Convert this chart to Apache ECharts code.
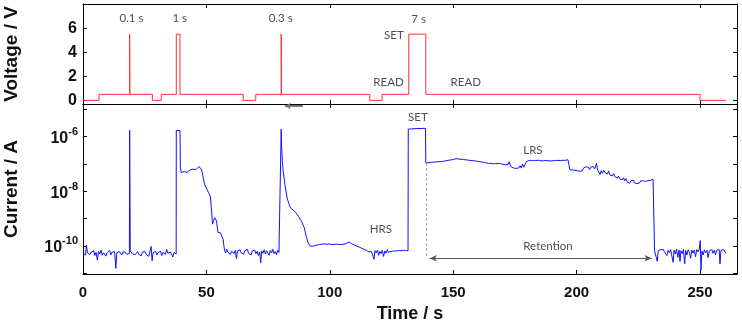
<!DOCTYPE html>
<html lang="en">
<head>
    <meta charset="utf-8">
    <title>Voltage / current vs time</title>
    <script type="text/javascript" src="https://cdn.jsdelivr.net/npm/echarts@6.0.0/dist/echarts.min.js"></script>
    <style>
        html, body { margin: 0; padding: 0; background: #fff; }
        #main { width: 742px; height: 325px; }
    </style>
</head>
<body>
<div id="main"></div>
<script>
    // applied voltage, [time s, V]
    var voltage = [
        [0, 0], [6.5, 0], [6.5, 0.5], [18.9, 0.5], [18.9, 5.5], [19.0, 5.5], [19.0, 0.5],
        [28.1, 0.5], [28.1, 0], [31.7, 0], [31.7, 0.5], [37.8, 0.5], [37.8, 5.5], [39.3, 5.5], [39.3, 0.5],
        [64.9, 0.5], [64.9, 0], [70, 0], [70, 0.5], [80.3, 0.5], [80.3, 5.5], [80.45, 5.5], [80.45, 0.5],
        [116.2, 0.5], [116.2, 0], [121.2, 0], [121.2, 0.5], [132, 0.5], [132, 5.5], [138.9, 5.5], [138.9, 0.5],
        [250, 0.5], [250, 0], [260.5, 0]
    ];

    // measured current, [time s, A]
    var current = [
        [0, 5.2e-11], [0.5, 6.0e-11], [1.0, 4.6e-11], [1.4, 1.05e-10], [1.8, 5.5e-11], [2.3, 6.3e-11], [2.8, 4.8e-11],
        [3.3, 5.9e-11], [3.8, 5.1e-11], [4.3, 6.6e-11], [4.8, 4.4e-11], [5.3, 5.8e-11], [5.8, 3.0e-11], [6.3, 6.2e-11],
        [6.8, 5.0e-11], [7.3, 7.0e-11], [7.8, 4.5e-11], [8.3, 5.6e-11], [8.8, 6.4e-11], [9.3, 4.2e-11], [9.8, 5.7e-11],
        [10.3, 5.0e-11], [10.8, 6.8e-11], [11.3, 4.7e-11], [11.8, 5.9e-11], [12.3, 5.3e-11], [12.8, 6.1e-11], [13.3, 1.5e-11],
        [13.7, 5.6e-11], [14.2, 4.9e-11], [14.7, 6.2e-11], [15.2, 5.4e-11], [15.7, 4.6e-11], [16.2, 6.0e-11], [16.7, 5.2e-11],
        [17.2, 5.8e-11], [17.7, 4.9e-11], [18.3, 5.6e-11], [18.8, 5.3e-11],
        [18.9, 1.7e-6], [19.05, 1.7e-6], [19.15, 6.5e-11],
        [19.6, 5.6e-11], [20.1, 5.0e-11], [20.6, 5.8e-11], [21.1, 4.7e-11], [21.6, 5.5e-11], [22.1, 6.1e-11], [22.6, 4.9e-11],
        [23.1, 5.4e-11], [23.6, 4.3e-11], [24.1, 5.9e-11], [24.6, 5.2e-11], [25.1, 6.3e-11], [25.6, 4.8e-11], [26.1, 5.5e-11],
        [26.6, 4.1e-11], [27.1, 6.0e-11], [27.6, 9.5e-11], [28.0, 2.8e-11], [28.4, 5.7e-11], [28.9, 5.1e-11], [29.4, 6.2e-11],
        [29.9, 4.6e-11], [30.4, 5.6e-11], [30.9, 5.0e-11], [31.4, 6.4e-11], [31.9, 4.4e-11], [32.4, 5.7e-11], [32.9, 6.6e-11],
        [33.4, 4.9e-11], [33.9, 7.4e-11], [34.4, 5.3e-11], [34.9, 4.7e-11], [35.4, 6.0e-11], [35.9, 5.1e-11], [36.4, 3.9e-11],
        [36.9, 5.8e-11], [37.4, 5.2e-11], [37.75, 5.0e-11],
        [37.8, 1.66e-6], [38.5, 1.7e-6], [39.3, 1.66e-6], [39.45, 7.0e-8],
        [39.8, 4.8e-8], [40.2, 5.6e-8], [40.6, 4.2e-8], [41.0, 5.2e-8], [41.4, 4.6e-8], [41.8, 5.8e-8], [42.2, 4.9e-8],
        [42.6, 5.4e-8], [43.0, 4.7e-8], [43.4, 6.0e-8], [43.8, 5.1e-8], [44.2, 5.7e-8], [44.6, 6.4e-8], [45.0, 5.5e-8],
        [45.4, 6.8e-8], [45.8, 6.1e-8], [46.2, 7.2e-8], [46.6, 6.6e-8], [47.0, 8.0e-8], [47.6, 9.3e-8], [48.1, 6.0e-8],
        [48.7, 3.1e-8], [49.3, 1.7e-8], [49.8, 1.9e-8], [50.4, 1.1e-8], [50.9, 8.7e-9], [51.3, 7.5e-9], [51.6, 6.6e-9],
        [52.0, 2.5e-9], [52.5, 6.2e-10], [52.9, 8.5e-10], [53.4, 1.07e-9], [53.8, 1.0e-9], [54.1, 8.0e-10], [54.7, 3.1e-10],
        [55.2, 3.4e-10], [55.7, 3.0e-10], [56.1, 3.5e-10], [56.5, 2.6e-10], [56.8, 1.7e-10], [57.1, 1.0e-10], [57.4, 6.6e-11],
        [57.8, 5.4e-11], [58.2, 7.6e-11], [58.7, 5.9e-11], [59.2, 6.9e-11], [59.7, 4.8e-11], [60.2, 6.4e-11], [60.7, 7.3e-11],
        [61.2, 5.2e-11], [61.7, 6.8e-11], [62.2, 3.4e-11], [62.6, 6.6e-11], [63.1, 5.7e-11], [63.6, 7.1e-11], [64.1, 5.5e-11],
        [64.6, 6.2e-11], [65.1, 4.9e-11], [65.6, 6.7e-11], [66.1, 5.8e-11], [66.6, 7.4e-11], [67.1, 5.3e-11], [67.6, 6.1e-11],
        [68.1, 4.6e-11], [68.6, 6.5e-11], [69.1, 5.6e-11], [69.6, 7.0e-11], [70.1, 5.1e-11], [70.6, 6.3e-11], [71.1, 4.4e-11],
        [71.6, 6.0e-11], [72.0, 2.4e-11], [72.4, 6.4e-11], [72.9, 5.4e-11], [73.4, 7.2e-11], [73.9, 5.0e-11], [74.4, 6.6e-11],
        [74.9, 5.9e-11], [75.4, 4.5e-11], [75.9, 6.8e-11], [76.4, 5.5e-11], [76.9, 7.5e-11], [77.4, 5.2e-11], [77.9, 6.2e-11],
        [78.4, 4.7e-11], [78.9, 6.9e-11], [79.4, 5.7e-11], [79.9, 6.4e-11], [80.2, 5.5e-11],
        [80.3, 1.85e-6], [80.5, 4.0e-7], [80.8, 1.2e-7], [81.1, 5.4e-8], [81.5, 3.0e-8], [81.8, 1.7e-8], [82.2, 1.1e-8],
        [82.7, 5.7e-9], [83.2, 4.0e-9], [83.8, 2.8e-9], [84.3, 2.3e-9], [84.8, 2.5e-9], [85.3, 2.0e-9], [85.8, 1.9e-9],
        [86.3, 1.6e-9], [86.8, 1.5e-9], [87.3, 1.2e-9], [87.8, 1.07e-9], [88.3, 8.5e-10], [88.8, 7.0e-10], [89.2, 6.2e-10],
        [89.7, 4.5e-10], [90.1, 3.0e-10], [90.6, 2.0e-10], [91.2, 1.3e-10], [91.9, 1.0e-10],
        [92.4, 8.6e-11], [92.9, 9.6e-11], [93.4, 9.0e-11], [93.9, 1.02e-10], [94.4, 9.3e-11], [94.9, 1.08e-10], [95.4, 9.7e-11],
        [95.9, 1.12e-10], [96.4, 1.0e-10], [96.9, 1.15e-10], [97.4, 1.05e-10], [97.9, 1.18e-10], [98.4, 1.08e-10], [98.9, 1.14e-10],
        [99.4, 1.03e-10], [99.9, 1.17e-10], [100.4, 1.06e-10], [100.9, 1.12e-10], [101.4, 1.0e-10], [101.9, 1.13e-10],
        [102.4, 1.04e-10], [102.9, 1.16e-10], [103.4, 1.07e-10], [103.9, 1.1e-10], [104.4, 1.02e-10], [104.9, 1.12e-10],
        [105.4, 1.05e-10], [105.9, 1.15e-10], [106.4, 1.1e-10], [106.9, 1.25e-10], [107.4, 1.3e-10], [107.9, 1.38e-10],
        [108.4, 1.28e-10], [108.9, 1.18e-10], [109.4, 1.22e-10], [109.9, 1.08e-10], [110.4, 1.12e-10], [110.9, 9.8e-11],
        [111.4, 1.04e-10], [111.9, 9.0e-11], [112.4, 9.5e-11], [112.9, 8.2e-11], [113.4, 8.8e-11], [113.9, 7.4e-11],
        [114.4, 8.0e-11], [114.9, 6.8e-11], [115.4, 7.6e-11], [115.9, 5.9e-11], [116.4, 6.8e-11], [116.9, 6.2e-11],
        [117.4, 7.1e-11], [117.9, 3.2e-11], [118.3, 6.6e-11], [118.8, 5.5e-11], [119.3, 7.0e-11], [119.8, 4.5e-11],
        [120.3, 6.3e-11], [120.8, 5.2e-11], [121.3, 6.8e-11], [121.8, 4.1e-11], [122.3, 6.5e-11], [122.8, 5.4e-11],
        [123.3, 7.2e-11], [123.8, 5.8e-11], [124.3, 6.7e-11], [124.8, 6.2e-11], [125.3, 7.3e-11], [125.8, 6.5e-11],
        [126.3, 7.0e-11], [126.8, 6.4e-11], [127.3, 7.4e-11], [127.8, 6.8e-11], [128.3, 7.2e-11], [128.8, 6.6e-11],
        [129.3, 7.5e-11], [129.8, 6.9e-11], [130.3, 7.3e-11], [130.8, 6.7e-11], [131.3, 7.1e-11], [131.7, 6.6e-11],
        [131.8, 1.86e-6], [133, 1.9e-6], [135, 1.95e-6], [137, 1.97e-6], [138.8, 2.0e-6], [138.9, 1.07e-7],
        [139.3, 1.15e-7], [139.7, 1.0e-7], [140.2, 1.1e-7], [140.7, 1.05e-7], [141.2, 1.14e-7], [141.7, 1.08e-7],
        [142.2, 1.16e-7], [142.7, 1.06e-7], [143.2, 1.18e-7], [143.7, 1.12e-7], [144.2, 1.2e-7], [144.7, 1.1e-7],
        [145.2, 1.22e-7], [145.7, 1.16e-7], [146.2, 1.25e-7], [146.7, 1.18e-7], [147.2, 1.3e-7], [147.7, 1.22e-7],
        [148.2, 1.35e-7], [148.7, 1.28e-7], [149.2, 1.4e-7], [149.7, 1.33e-7], [150.2, 1.45e-7], [150.7, 1.38e-7],
        [151.2, 1.55e-7], [151.7, 1.45e-7], [152.2, 1.5e-7], [152.7, 1.4e-7], [153.2, 1.47e-7], [153.7, 1.36e-7],
        [154.2, 1.44e-7], [154.7, 1.32e-7], [155.2, 1.4e-7], [155.7, 1.3e-7], [156.2, 1.36e-7], [156.7, 1.26e-7],
        [157.2, 1.33e-7], [157.7, 1.22e-7], [158.2, 1.3e-7], [158.7, 1.2e-7], [159.2, 1.27e-7], [159.7, 1.15e-7],
        [160.2, 1.22e-7], [160.7, 1.12e-7], [161.2, 1.18e-7], [161.7, 1.08e-7], [162.2, 1.14e-7], [162.7, 1.04e-7],
        [163.2, 1.1e-7], [163.7, 9.6e-8], [164.2, 1.02e-7], [164.7, 9.2e-8], [165.2, 1.05e-7], [165.7, 9.5e-8],
        [166.2, 1.0e-7], [166.7, 9.3e-8], [167.2, 1.03e-7], [167.7, 9.6e-8], [168.2, 1.05e-7], [168.7, 9.8e-8],
        [169.2, 1.02e-7], [169.7, 9.0e-8], [170.2, 9.6e-8], [170.7, 8.6e-8], [171.2, 9.2e-8], [171.7, 8.4e-8],
        [172.2, 9.5e-8], [172.7, 1.2e-7], [173.1, 9.0e-8], [173.6, 7.6e-8], [174.1, 8.2e-8], [174.6, 7.0e-8],
        [175.1, 7.8e-8], [175.6, 6.8e-8], [176.1, 7.9e-8], [176.6, 7.1e-8], [177.1, 8.5e-8], [177.6, 7.0e-8],
        [178.1, 9.8e-8], [178.6, 7.5e-8], [179.1, 8.8e-8], [179.6, 1.2e-7], [180.1, 1.1e-7], [180.5, 1.3e-7],
        [181.0, 1.18e-7], [181.5, 1.35e-7], [182.0, 1.22e-7], [182.5, 1.3e-7], [183.0, 1.2e-7], [183.5, 1.32e-7],
        [184.0, 1.25e-7], [184.5, 1.36e-7], [185.0, 1.24e-7], [185.5, 1.3e-7], [186.0, 1.2e-7], [186.5, 1.28e-7],
        [187.0, 1.22e-7], [187.5, 1.33e-7], [188.0, 1.24e-7], [188.5, 1.3e-7], [189.0, 1.18e-7], [189.5, 1.27e-7],
        [190.0, 1.21e-7], [190.5, 1.3e-7], [191.0, 1.23e-7], [191.5, 1.32e-7], [192.0, 1.25e-7], [192.5, 1.34e-7],
        [193.0, 1.26e-7], [193.5, 1.31e-7], [194.0, 1.24e-7], [194.5, 1.36e-7], [195.0, 1.28e-7], [195.5, 1.34e-7],
        [196.0, 1.3e-7], [196.5, 1.42e-7], [197.0, 1.38e-7], [197.3, 6.0e-8], [197.8, 5.4e-8], [198.3, 6.0e-8],
        [198.8, 5.2e-8], [199.3, 5.8e-8], [199.8, 5.0e-8], [200.3, 5.6e-8], [200.8, 4.9e-8], [201.3, 5.4e-8],
        [201.8, 6.2e-8], [202.3, 5.5e-8], [202.8, 7.0e-8], [203.3, 6.0e-8], [203.8, 7.8e-8], [204.3, 6.6e-8],
        [204.8, 7.4e-8], [205.3, 6.2e-8], [205.8, 7.6e-8], [206.3, 6.8e-8], [206.8, 8.0e-8], [207.3, 6.5e-8],
        [207.8, 7.2e-8], [208.1, 1.05e-7], [208.5, 6.0e-8], [209.0, 7.0e-8], [209.5, 4.1e-8], [210.0, 5.6e-8],
        [210.5, 4.5e-8], [211.0, 5.8e-8], [211.5, 4.8e-8], [212.0, 5.2e-8], [212.5, 4.2e-8], [213.0, 5.5e-8],
        [213.5, 3.9e-8], [214.0, 4.6e-8], [214.5, 3.6e-8], [215.0, 4.4e-8], [215.5, 3.4e-8], [216.0, 4.0e-8],
        [216.5, 3.0e-8], [217.0, 3.6e-8], [217.5, 2.8e-8], [218.0, 3.3e-8], [218.5, 2.6e-8], [219.0, 3.1e-8],
        [219.5, 2.4e-8], [220.0, 2.9e-8], [220.5, 2.2e-8], [221.0, 2.6e-8], [221.5, 1.95e-8], [222.0, 2.4e-8],
        [222.5, 2.1e-8], [223.0, 2.5e-8], [223.5, 2.0e-8], [224.0, 2.3e-8], [224.5, 1.9e-8], [225.0, 2.2e-8],
        [225.5, 2.0e-8], [226.0, 2.4e-8], [226.5, 2.1e-8], [227.0, 2.35e-8], [227.5, 2.0e-8], [228.0, 2.3e-8],
        [228.5, 2.15e-8], [229.0, 2.4e-8], [229.5, 2.2e-8], [230.0, 2.5e-8], [230.5, 2.3e-8], [231.0, 2.7e-8],
        [231.3, 2.4e-8], [231.6, 6.5e-11],
        [232.1, 7.0e-11], [232.7, 2.7e-11], [233.1, 6.8e-11], [233.6, 6.2e-11], [234.1, 7.2e-11], [234.6, 6.5e-11],
        [235.1, 7.4e-11], [235.6, 6.0e-11], [236.1, 7.0e-11], [236.6, 4.4e-11], [237.1, 6.8e-11], [237.6, 5.6e-11],
        [238.1, 7.3e-11], [238.6, 6.2e-11], [239.1, 2.5e-11], [239.5, 6.9e-11], [240.0, 5.0e-11], [240.5, 7.6e-11],
        [241.0, 3.8e-11], [241.5, 7.1e-11], [241.9, 2.7e-11], [242.3, 6.6e-11], [242.8, 5.2e-11], [243.3, 7.4e-11],
        [243.8, 2.2e-11], [244.2, 6.8e-11], [244.7, 4.6e-11], [245.2, 7.2e-11], [245.7, 5.8e-11], [246.2, 3.5e-11],
        [246.7, 7.0e-11], [247.2, 5.4e-11], [247.7, 6.9e-11], [248.2, 4.0e-11], [248.7, 7.3e-11], [249.2, 6.0e-11],
        [249.7, 7.5e-11], [250.1, 1.55e-10], [250.4, 1.3e-11], [250.8, 6.4e-11], [251.3, 4.6e-11], [251.8, 7.1e-11],
        [252.3, 5.6e-11], [252.8, 6.8e-11], [253.3, 3.7e-11], [253.8, 6.6e-11], [254.3, 5.9e-11], [254.8, 7.3e-11],
        [255.3, 5.3e-11], [255.8, 6.9e-11], [256.3, 4.8e-11], [256.8, 7.0e-11], [257.3, 6.1e-11], [257.8, 7.2e-11],
        [258.1, 2.2e-11], [258.5, 6.8e-11], [259.0, 6.0e-11], [259.5, 7.4e-11], [260.0, 6.3e-11], [260.5, 5.4e-11]
    ];

    // text notes, [time, value, text]
    var voltageNotes = [
        [19.6, 6.8, '0.1 s'], [39.2, 6.8, '1 s'], [80.1, 6.8, '0.3 s'], [136, 6.75, '7 s'],
        [126, 5.43, 'SET'], [123.8, 1.5, 'READ'], [155.1, 1.5, 'READ']
    ];
    var currentNotes = [
        [135.7, 5.1e-6, 'SET'], [182.3, 3.1e-7, 'LRS'], [120.7, 4.1e-10, 'HRS'], [188.4, 9.3e-11, 'Retention']
    ];
    var retentionSpan = [140.5, 230.4, 3.5e-11];   // arrow from, to, level
    var setEnd = [138.9, 1.07e-7, 3.6e-11];        // dashed marker time, top, bottom

    var xMin = 0, xMax = 265, xStep = 50;
    var vMin = -0.3, vMax = 8;
    var iMin = 9.3e-12, iMax = 1.55e-5;
    var decadeLabels = [-10, -8, -6];

    var boldFont = 'Liberation Sans, Arial, sans-serif';
    var noteFont = 'Lato, Liberation Sans, sans-serif';

    var myChart = echarts.init(document.getElementById('main'));

    function frameX(grid, pos, showLabel) {
        return {
            type: 'value', gridIndex: grid, position: pos, min: xMin, max: xMax, interval: xStep,
            axisLine: {show: true, onZero: false, lineStyle: {color: '#000', width: 1}},
            axisTick: {show: true, inside: true, length: 4, lineStyle: {color: '#000'}},
            axisLabel: {
                show: showLabel, margin: 11, color: '#111', fontSize: 15, fontWeight: 'bold', fontFamily: boldFont,
                formatter: function (v) { return v % xStep === 0 ? String(v) : ''; }
            },
            splitLine: {show: false}
        };
    }

    function decadeLabel(v) {
        var lg = Math.log10(v);
        var e = Math.round(lg);
        if (Math.abs(lg - e) > 0.01 || decadeLabels.indexOf(e) < 0) return '';
        return '{b|10}{s|' + e + '}';
    }

    var xTop0 = frameX(0, 'top', false);
    var xBot0 = frameX(0, 'bottom', false);
    var xTop1 = frameX(1, 'top', false);
    var xBot1 = frameX(1, 'bottom', true);
    xBot1.name = 'Time / s';
    xBot1.nameLocation = 'middle';
    xBot1.nameGap = 30;
    xBot1.nameTextStyle = {fontSize: 18, fontWeight: 'bold', color: '#111', fontFamily: boldFont};

    var yTickStyle = {show: true, inside: true, length: 4, lineStyle: {color: '#000'}};
    var yLineStyle = {show: true, onZero: false, lineStyle: {color: '#000', width: 1}};

    option = {
        animation: false,
        backgroundColor: '#fff',
        grid: [
            {left: 83, right: 5, top: 4, height: 100, outerBoundsMode: 'none'},
            {left: 83, right: 5, top: 104, height: 170, outerBoundsMode: 'none'}
        ],
        xAxis: [xBot0, xTop0, xBot1, xTop1],
        yAxis: [
            {
                type: 'value', gridIndex: 0, position: 'left', min: vMin, max: vMax,
                axisLine: yLineStyle, axisTick: yTickStyle, splitLine: {show: false},
                axisLabel: {
                    margin: 6, color: '#111', fontSize: 16, fontWeight: 'bold', fontFamily: boldFont,
                    formatter: function (v) { return (v % 2 === 0 && v < vMax) ? String(v) : ''; }
                },
                name: 'Voltage / V', nameLocation: 'middle', nameGap: 62,
                nameTextStyle: {fontSize: 19, fontWeight: 'bold', color: '#111', fontFamily: boldFont}
            },
            {
                type: 'value', gridIndex: 0, position: 'right', min: vMin, max: vMax,
                axisLine: yLineStyle, axisTick: yTickStyle, axisLabel: {show: false}, splitLine: {show: false}
            },
            {
                type: 'log', gridIndex: 1, position: 'left', min: iMin, max: iMax,
                axisLine: yLineStyle, axisTick: yTickStyle, splitLine: {show: false},
                axisLabel: {
                    margin: 5, color: '#111', fontFamily: boldFont, formatter: decadeLabel,
                    rich: {
                        b: {fontSize: 16, fontWeight: 'bold', fontFamily: boldFont, lineHeight: 20, verticalAlign: 'bottom', color: '#111'},
                        s: {fontSize: 11, fontWeight: 'bold', fontFamily: boldFont, lineHeight: 20, verticalAlign: 'top', color: '#111'}
                    }
                },
                name: 'Current / A', nameLocation: 'middle', nameGap: 62,
                nameTextStyle: {fontSize: 19, fontWeight: 'bold', color: '#111', fontFamily: boldFont}
            },
            {
                type: 'log', gridIndex: 1, position: 'right', min: iMin, max: iMax,
                axisLine: yLineStyle, axisTick: yTickStyle, axisLabel: {show: false}, splitLine: {show: false}
            }
        ],
        series: [
            {
                type: 'line', xAxisIndex: 0, yAxisIndex: 0, data: voltage, showSymbol: false,
                lineStyle: {color: '#ff3030', width: 1}, z: 3
            },
            {
                type: 'line', xAxisIndex: 2, yAxisIndex: 2, data: current, showSymbol: false,
                lineStyle: {color: '#1010ff', width: 1}, z: 3,
                markLine: {
                    silent: true, animation: false, label: {show: false},
                    data: [
                        [
                            {coord: [retentionSpan[0], retentionSpan[2]], symbol: 'arrow', symbolSize: [5, 7]},
                            {coord: [retentionSpan[1], retentionSpan[2]], symbol: 'arrow', symbolSize: [5, 7],
                                lineStyle: {color: '#555', type: 'solid', width: 1}}
                        ],
                        [
                            {coord: [setEnd[0], setEnd[1]], symbol: 'none'},
                            {coord: [setEnd[0], setEnd[2]], symbol: 'none',
                                lineStyle: {color: '#aaa', type: [3, 2], width: 1}}
                        ],
                        [
                            {coord: [89.1, 1.3e-5], symbol: 'none'},
                            {coord: [81.8, 1.3e-5], symbol: 'arrow', symbolSize: [5, 6],
                                lineStyle: {color: '#777', type: 'solid', width: 2}}
                        ]
                    ]
                }
            },
            {
                type: 'scatter', xAxisIndex: 0, yAxisIndex: 0, data: voltageNotes, symbolSize: 0, silent: true,
                label: {show: true, position: 'inside', formatter: function (p) { return p.data[2]; },
                    color: '#222', fontSize: 11.5, fontFamily: noteFont}
            },
            {
                type: 'scatter', xAxisIndex: 2, yAxisIndex: 2, data: currentNotes, symbolSize: 0, silent: true,
                label: {show: true, position: 'inside', formatter: function (p) { return p.data[2]; },
                    color: '#222', fontSize: 11.5, fontFamily: noteFont}
            }
        ]
    };
    myChart.setOption(option);
</script>
</body>
</html>
